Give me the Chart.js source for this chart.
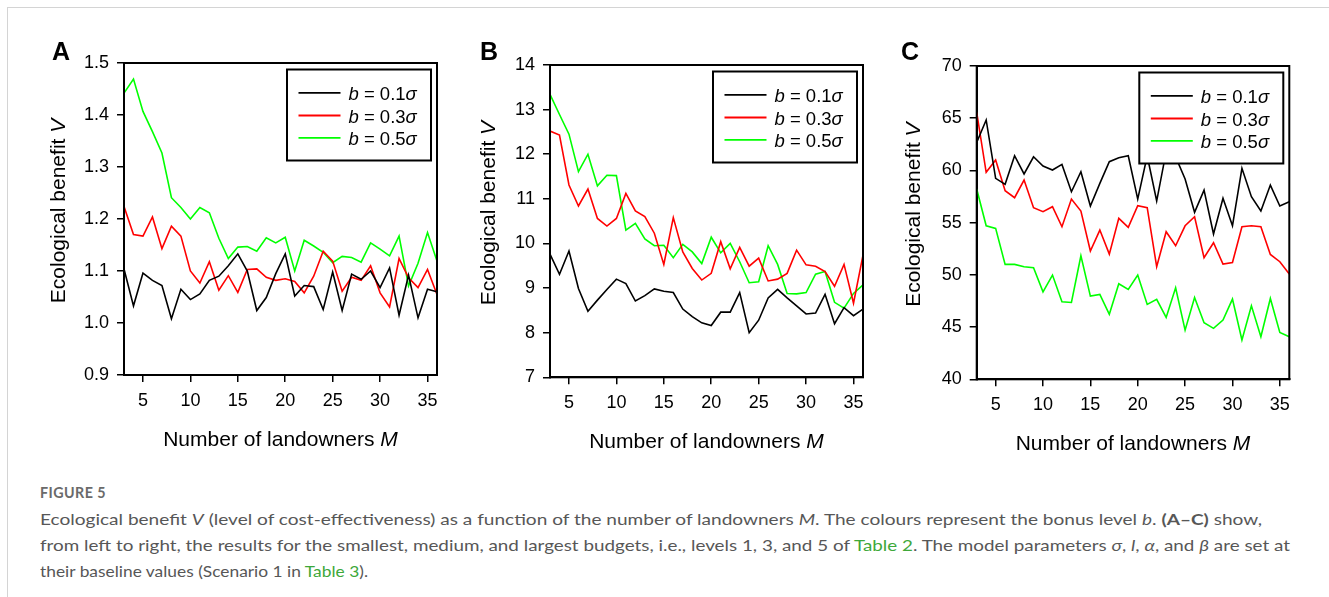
<!DOCTYPE html>
<html><head><meta charset="utf-8">
<script src="https://cdn.jsdelivr.net/npm/chart.js@4.4.1/dist/chart.umd.min.js"></script>
<style>
html,body{margin:0;padding:0;background:#fff;width:1329px;height:597px;overflow:hidden;position:relative;}
#frame{position:absolute;left:7px;top:7px;width:1400px;height:700px;border-left:1px solid #d4d4d4;border-top:1px solid #d4d4d4;}
canvas{position:absolute;}
.letter{position:absolute;font:bold 25px 'Liberation Sans',Arial,sans-serif;color:#000;line-height:25px;}
.cap{position:absolute;left:40px;white-space:nowrap;font-family:Lato,'Open Sans',sans-serif;font-size:16px;color:#575757;transform-origin:0 50%;line-height:26px;}
.cap .lk{color:#3ea83a;}
</style></head>
<body>
<div id="frame"></div>
<canvas id="cA" width="460" height="470" style="left:0;top:0"></canvas>
<canvas id="cB" width="450" height="470" style="left:430px;top:0"></canvas>
<canvas id="cC" width="460" height="470" style="left:860px;top:0"></canvas>
<div class="letter" style="left:52px;top:39px">A</div>
<div class="letter" style="left:480px;top:39px">B</div>
<div class="letter" style="left:901px;top:39px">C</div>
<div class="cap" data-w="66" style="top:479px;font-weight:700;color:#6a6a6a;letter-spacing:0.5px">FIGURE 5</div>
<div class="cap" data-w="1222" style="top:506px">Ecological benefit <i>V</i> (level of cost-effectiveness) as a function of the number of landowners <i>M</i>. The colours represent the bonus level <i>b</i>. <b>(A–C)</b> show,</div>
<div class="cap" data-w="1250" style="top:532px">from left to right, the results for the smallest, medium, and largest budgets, i.e., levels 1, 3, and 5 of <span class="lk">Table 2</span>. The model parameters <i>σ</i>, <i>l</i>, <i>α</i>, and <i>β</i> are set at</div>
<div class="cap" data-w="328" style="top:558px">their baseline values (Scenario 1 in <span class="lk">Table 3</span>).</div>
<script>
// ---------- data ----------
const M = [3,4,5,6,7,8,9,10,11,12,13,14,15,16,17,18,19,20,21,22,23,24,25,26,27,28,29,30,31,32,33,34,35,36];
const bLevels = ['0.1', '0.3', '0.5'];
const seriesColors = ['#000000', '#ff0000', '#00ff00'];
const xTicks = [5,10,15,20,25,30,35];

const A_b01 = [1.104,1.033,1.096,1.082,1.072,1.008,1.065,1.045,1.056,1.082,1.090,1.110,1.133,1.100,1.024,1.049,1.095,1.133,1.052,1.072,1.070,1.026,1.098,1.024,1.094,1.084,1.100,1.068,1.106,1.015,1.092,1.010,1.065,1.060];
const A_b03 = [1.224,1.170,1.167,1.204,1.143,1.186,1.167,1.100,1.077,1.118,1.063,1.091,1.059,1.103,1.104,1.088,1.082,1.085,1.080,1.058,1.090,1.138,1.119,1.061,1.088,1.082,1.110,1.058,1.031,1.124,1.087,1.068,1.103,1.055];
const A_b05 = [1.442,1.469,1.407,1.368,1.327,1.241,1.222,1.200,1.222,1.212,1.163,1.124,1.146,1.147,1.138,1.164,1.154,1.165,1.100,1.159,1.148,1.136,1.116,1.128,1.126,1.117,1.154,1.142,1.129,1.167,1.071,1.115,1.174,1.119];
const A_yTicks = [0.9,1.0,1.1,1.2,1.3,1.4,1.5];

const B_b01 = [9.76,9.31,9.83,8.99,8.48,8.73,8.97,9.20,9.10,8.71,8.83,8.98,8.93,8.90,8.53,8.36,8.22,8.16,8.46,8.46,8.90,8.00,8.28,8.78,8.97,8.78,8.60,8.42,8.44,8.86,8.20,8.56,8.38,8.53];
const B_b03 = [12.52,12.43,11.31,10.84,11.22,10.56,10.39,10.56,11.12,10.73,10.60,10.23,9.53,10.58,9.81,9.44,9.18,9.33,10.04,9.43,9.91,9.49,9.67,9.16,9.20,9.33,9.85,9.52,9.49,9.37,9.04,9.53,8.66,9.74];
const B_b05 = [13.34,12.89,12.45,11.61,12.00,11.29,11.53,11.52,10.30,10.45,10.10,9.95,9.96,9.68,9.98,9.81,9.55,10.14,9.79,10.00,9.59,9.12,9.14,9.95,9.53,8.88,8.87,8.90,9.31,9.37,8.68,8.55,8.88,9.07];
const B_yTicks = [7,8,9,10,11,12,13,14];

const C_b01 = [62.69,64.83,59.24,58.67,61.41,59.66,61.31,60.42,60.04,60.58,57.96,59.88,56.59,58.76,60.84,61.22,61.41,57.26,61.4,57.07,61.8,61.3,59.18,55.99,58.12,53.91,57.33,54.70,60.20,57.49,56.11,58.60,56.59,57.00];
const C_b03 = [65.56,59.82,61.00,58.06,57.39,59.08,56.43,56.05,56.53,54.61,57.26,56.11,52.28,54.29,51.99,55.41,54.55,56.62,56.43,50.78,54.13,52.79,54.70,55.57,51.64,53.08,51.03,51.19,54.61,54.70,54.61,51.96,51.26,50.08];
const C_b05 = [58.22,54.70,54.45,51.00,51.00,50.78,50.68,48.38,49.98,47.42,47.36,51.83,47.97,48.13,46.22,49.15,48.61,49.98,47.17,47.65,45.93,48.77,44.71,47.84,45.42,44.88,45.67,47.68,43.76,47.04,44.07,47.74,44.49,44.07];
const C_yTicks = [40,45,50,55,60,65,70];

// ---------- drawing ----------
const FONT = "'Liberation Sans', Arial, sans-serif";

function drawParts(ctx, parts, size, x, y, align) {
  let total = 0;
  const widths = parts.map(p => { ctx.font = (p[1] ? 'italic ' : '') + size + 'px ' + FONT; const w = ctx.measureText(p[0]).width; total += w; return w; });
  let cx = align === 'center' ? x - total / 2 : x;
  parts.forEach((p, i) => { ctx.font = (p[1] ? 'italic ' : '') + size + 'px ' + FONT; ctx.fillText(p[0], cx, y); cx += widths[i]; });
}

const panelPlugin = {
  id: 'panelDeco',
  afterDatasetsDraw(chart) {
    const ctx = chart.ctx, a = chart.chartArea;
    const o = chart.options.plugins.panelDeco;
    const lw = 144, lh = 91;
    const lx = a.right - 6 - lw, ly = a.top + 6.5;
    ctx.save();
    ctx.fillStyle = '#fff';
    ctx.fillRect(lx, ly, lw, lh);
    ctx.strokeStyle = '#000'; ctx.lineWidth = 2;
    ctx.strokeRect(lx, ly, lw, lh);
    const rows = [23.3, 46, 68.3];
    chart.data.datasets.forEach((ds, i) => {
      const yy = ly + rows[i];
      ctx.strokeStyle = ds.borderColor; ctx.lineWidth = 1.8;
      ctx.beginPath(); ctx.moveTo(lx + 11.5, yy); ctx.lineTo(lx + 53.5, yy); ctx.stroke();
      ctx.fillStyle = '#000'; ctx.textBaseline = 'alphabetic'; ctx.textAlign = 'left';
      drawParts(ctx, [['b', true], [' = ' + bLevels[i], false], ['σ', true]], 18.5, lx + 61.5, yy + 7.2, 'left');
    });
    ctx.strokeStyle = '#000'; ctx.lineWidth = 2;
    ctx.strokeRect(a.left, a.top, a.right - a.left, a.bottom - a.top);
    ctx.fillStyle = '#000'; ctx.textAlign = 'left'; ctx.textBaseline = 'alphabetic';
    drawParts(ctx, [['Number of landowners ', false], ['M', true]], 21, (a.left + a.right) / 2, a.bottom + 63 + 7.5, 'center');
    ctx.translate(a.left - o.yTitleOffset + 7.5, (a.top + a.bottom) / 2 - 8);
    ctx.rotate(-Math.PI / 2);
    drawParts(ctx, [['Ecological benefit ', false], ['V', true]], 21, 0, 0, 'center');
    ctx.restore();
  }
};

function makePanel(id, canvasLeft, canvasW, area, yTicks, decimals, s1, s2, s3, yTitleOffset) {
  const yW = 60, xH = 40, H = 470;
  const cfg = {
    type: 'line',
    data: {
      datasets: [s1, s2, s3].map((s, i) => ({
        label: 'b = ' + bLevels[i] + 'σ',
        data: M.map((m, k) => ({ x: m, y: s[k] })),
        borderColor: seriesColors[i],
        borderWidth: 1.6,
        pointRadius: 0,
        tension: 0,
        fill: false
      }))
    },
    options: {
      responsive: false,
      animation: false,
      devicePixelRatio: 1,
      layout: { padding: { left: area.L - canvasLeft - yW, top: area.T, right: canvasLeft + canvasW - area.R, bottom: H - area.B - xH } },
      plugins: { legend: { display: false }, tooltip: { enabled: false }, panelDeco: { yTitleOffset } },
      scales: {
        x: {
          type: 'linear', min: 3, max: 36,
          afterBuildTicks: sc => { sc.ticks = xTicks.map(v => ({ value: v })); },
          afterFit: sc => { sc.height = xH; },
          grid: { display: true, drawOnChartArea: false, drawTicks: true, tickLength: 7, color: '#000', lineWidth: 1.5 },
          border: { display: true, color: '#000', width: 2 },
          ticks: { font: { family: FONT, size: 18 }, color: '#000', padding: 8, maxRotation: 0, autoSkip: false }
        },
        y: {
          type: 'linear', min: yTicks[0], max: yTicks[yTicks.length - 1],
          afterBuildTicks: sc => { sc.ticks = yTicks.map(v => ({ value: v })); },
          afterFit: sc => { sc.width = yW; },
          grid: { display: true, drawOnChartArea: false, drawTicks: true, tickLength: 7, color: '#000', lineWidth: 1.5 },
          border: { display: true, color: '#000', width: 2 },
          ticks: { font: { family: FONT, size: 18 }, color: '#000', padding: 8, callback: v => Number(v).toFixed(decimals) }
        }
      }
    },
    plugins: [panelPlugin]
  };
  return new Chart(document.getElementById(id), cfg);
}

makePanel('cA', 0, 460, { L: 124, T: 63, R: 437, B: 375 }, A_yTicks, 1, A_b01, A_b03, A_b05, 67);
makePanel('cB', 430, 450, { L: 550, T: 65, R: 863, B: 377.3 }, B_yTicks, 0, B_b01, B_b03, B_b05, 63);
makePanel('cC', 860, 460, { L: 976.7, T: 66, R: 1289.3, B: 379.3 }, C_yTicks, 0, C_b01, C_b03, C_b05, 64);

document.querySelectorAll('.cap').forEach(el => {
  const w = el.getBoundingClientRect().width;
  const target = parseFloat(el.dataset.w);
  if (w > 0) el.style.transform = 'scaleX(' + (target / w) + ')';
});
</script>
</body></html>
